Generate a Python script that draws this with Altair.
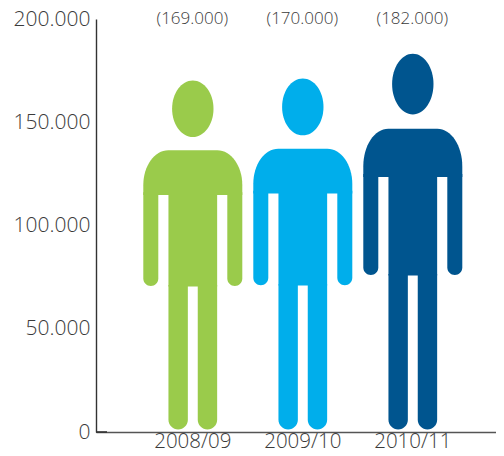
import altair as alt
import pandas as pd

periods = ["2008/09", "2009/10", "2010/11"]
values = [169000, 170000, 182000]
labels = ["(169.000)", "(170.000)", "(182.000)"]
colors = ["#9ACB4B", "#00AEEB", "#00558F"]

df = pd.DataFrame({"period": periods, "value": values, "label": labels})

FONT = "Open Sans"
TEXT = "#3A3A3A"
LIFT = -2.5
PLOT_W = 400
PLOT_H = 413
PX = PLOT_H / 200000
pad_outer = (PLOT_W / 110 - 3) / 2
x_scale = alt.Scale(domain=periods, paddingInner=0, paddingOuter=pad_outer,
                    align=41.8 / (PLOT_W - 330))
y_scale = alt.Scale(domain=[0, 200000], nice=False)
color_enc = alt.Color("period:N", scale=alt.Scale(domain=periods, range=colors), legend=None)

x_enc = alt.X("period:N", scale=x_scale, sort=periods, title=None,
              axis=alt.Axis(labelAngle=0, ticks=False, domainColor="#555555", domainWidth=1.6,
                            labelFont=FONT, labelFontSize=20.5, labelFontWeight=300,
                            labelColor=TEXT, labelPadding=-1, grid=False))
y_axis = alt.Axis(values=[0, 50000, 100000, 150000, 200000], ticks=False, grid=False,
                  domainColor="#333333", domainWidth=1.4,
                  labelExpr="replace(format(datum.value, ','), ',', '.')",
                  labelFont=FONT, labelFontSize=21, labelFontWeight=300,
                  labelColor=TEXT, labelPadding=6)


def part(top, bottom, size, offset=0, **corners):
    return (alt.Chart(df)
            .transform_calculate(top=f"datum.value*{top}", bottom=f"datum.value*{bottom}")
            .mark_bar(size=size, xOffset=offset, yOffset=LIFT, y2Offset=LIFT, **corners)
            .encode(x=x_enc,
                    y=alt.Y("top:Q", scale=y_scale, title=None, axis=y_axis),
                    y2="bottom:Q",
                    color=color_enc))


def symbol(anchor, paths, size):
    return (alt.Chart(df)
            .transform_calculate(anchor=f"datum.value*{anchor}")
            .mark_point(filled=True, opacity=1, strokeWidth=0, size=size, yOffset=LIFT)
            .encode(x=x_enc,
                    y=alt.Y("anchor:Q", scale=y_scale, title=None, axis=y_axis),
                    shape=alt.Shape("period:N", legend=None,
                                    scale=alt.Scale(domain=periods, range=paths)),
                    color=color_enc))


K = 0.5523


def head_path(value):
    ry = value * PX * 0.162 / 41.4
    return (f"M0 {-ry:.3f}C{K} {-ry:.3f} 1 {-ry * K:.3f} 1 0"
            f"C1 {ry * K:.3f} {K} {ry:.3f} 0 {ry:.3f}"
            f"C{-K} {ry:.3f} -1 {ry * K:.3f} -1 0"
            f"C-1 {-ry * K:.3f} {-K} {-ry:.3f} 0 {-ry:.3f}Z")


def shoulder_path(value):
    half = 49.5
    h = value * PX * 0.128 / half
    rx = 25 / half
    ry = value * PX * 0.1 / half
    c = 1 - K
    return (f"M-1 {h:.3f}L-1 {ry:.3f}C-1 {ry * c:.3f} {-1 + rx * c:.3f} 0 {-1 + rx:.3f} 0"
            f"L{1 - rx:.3f} 0C{1 - rx * c:.3f} 0 1 {ry * c:.3f} 1 {ry:.3f}L1 {h:.3f}Z")


head = symbol(0.919, [head_path(v) for v in values], 41.4 ** 2)
shoulders = symbol(0.800, [shoulder_path(v) for v in values], 99 ** 2)
torso = part(0.680, 0.410, 48.7)
arm_l = part(0.680, 0.411, 15, -42, cornerRadiusBottomLeft=7.5, cornerRadiusBottomRight=7.5)
arm_r = part(0.680, 0.411, 15, 42, cornerRadiusBottomLeft=7.5, cornerRadiusBottomRight=7.5)
leg_l = part(0.414, 0, 19.4, -14.65, cornerRadiusBottomLeft=9.7, cornerRadiusBottomRight=9.7)
leg_r = part(0.414, 0, 19.4, 14.65, cornerRadiusBottomLeft=9.7, cornerRadiusBottomRight=9.7)

top_text = (alt.Chart(df)
            .mark_text(font=FONT, fontSize=17, fontWeight=300, color=TEXT, baseline="middle", dx=-0.5)
            .encode(x=x_enc, y=alt.value(0), text="label:N"))

zero_tick = (alt.Chart(pd.DataFrame({"z": [0]}))
             .mark_rule(color="#333333", strokeWidth=1.6)
             .encode(x=alt.value(0), x2=alt.value(11), y=alt.Y("z:Q", scale=y_scale, title=None, axis=y_axis)))

chart = (alt.layer(torso, arm_l, arm_r, leg_l, leg_r, shoulders, head, top_text, zero_tick)
         .resolve_scale(shape="independent")
         .properties(width=PLOT_W, height=PLOT_H, background="white", autosize="none",
                     padding={"left": 88, "top": 11, "right": 0, "bottom": 16})
         .configure_view(stroke=None))

chart.save("out.html", embed_options={"renderer": "svg", "actions": False})
